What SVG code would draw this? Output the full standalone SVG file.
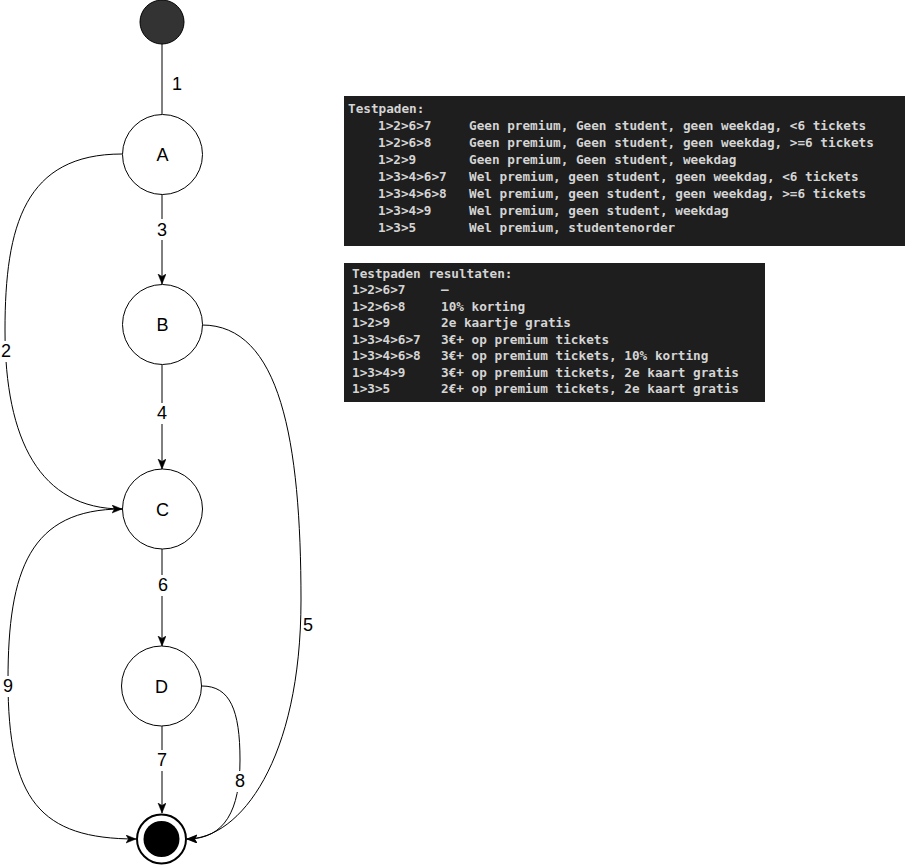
<svg xmlns="http://www.w3.org/2000/svg" width="907" height="866" viewBox="0 0 907 866">
<style>
.node{fill:#fff;stroke:#000;stroke-width:1}
.nl{font-family:"Liberation Sans",Arial,sans-serif;font-size:18px;fill:#000;text-anchor:middle}
.el{font-family:"Liberation Sans",Arial,sans-serif;font-size:18px;fill:#000;text-anchor:middle}
.edge{fill:none;stroke:#000;stroke-width:1}
.lbg{fill:#fff}
.box{fill:#1e1e1e}
.mono{font-family:"DejaVu Sans Mono","Liberation Mono",monospace;font-size:12.7px;font-weight:bold;fill:#d4d4d4}
</style>
<defs>
<marker id="arr" markerUnits="userSpaceOnUse" markerWidth="12" markerHeight="10" refX="10" refY="4" orient="auto" viewBox="0 0 12 10">
<path d="M0,0 L10,4 L0,8 L2.5,4 Z" fill="#000" stroke="#000" stroke-width="0.5"/>
</marker>
</defs>
<rect width="907" height="866" fill="#fff"/>

<g id="connectors">
<line class="edge" x1="162" y1="44" x2="162" y2="114"/>
<path class="edge" d="M162,194 L162,284" marker-end="url(#arr)"/>
<path class="edge" d="M162,365 L162,469" marker-end="url(#arr)"/>
<path class="edge" d="M162,549 L162,646" marker-end="url(#arr)"/>
<path class="edge" d="M162,726 L162,813" marker-end="url(#arr)"/>
<path class="edge" d="M122,154 C25,154 5,225 5,330 C5,440 40,509 122,509" marker-end="url(#arr)"/>
<path class="edge" d="M122,509 C30,509 8,570 8,680 C8,800 40,839 136,839" marker-end="url(#arr)"/>
<path class="edge" d="M202,325 C280,325 301,440 301,600 C301,760 240,839 187,839" marker-end="url(#arr)"/>
<path class="edge" d="M202,686 C230,686 240,710 240,760 C240,810 225,839 187,839" marker-end="url(#arr)"/>
<g id="edge-labels">
<text class="el" x="177" y="90">1</text>
<rect class="lbg" x="152" y="219" width="20" height="21"/>
<text class="el" x="162" y="236">3</text>
<rect class="lbg" x="152" y="403" width="20" height="21"/>
<text class="el" x="162" y="419">4</text>
<rect class="lbg" x="153" y="575" width="20" height="21"/>
<text class="el" x="163" y="591">6</text>
<rect class="lbg" x="152" y="750" width="20" height="21"/>
<text class="el" x="162" y="766">7</text>
<rect class="lbg" x="0" y="341" width="12" height="21"/>
<text class="el" x="6" y="357">2</text>
<rect class="lbg" x="0" y="676" width="16" height="21"/>
<text class="el" x="8" y="692">9</text>
<text class="el" x="308" y="631">5</text>
<rect class="lbg" x="232" y="771" width="17" height="21"/>
<text class="el" x="240" y="787">8</text>
</g>
</g>

<g id="start"><circle cx="162" cy="22" r="22" fill="#333" stroke="#000" stroke-width="1"/></g>
<g id="A"><circle class="node" cx="162.5" cy="154.5" r="40"/><text class="nl" x="162.5" y="161">A</text></g>
<g id="B"><circle class="node" cx="162.5" cy="324.5" r="40"/><text class="nl" x="162.5" y="331">B</text></g>
<g id="C"><circle class="node" cx="162.5" cy="509" r="40"/><text class="nl" x="162.5" y="515.5">C</text></g>
<g id="D"><circle class="node" cx="161.5" cy="686" r="40"/><text class="nl" x="161.5" y="692.5">D</text></g>
<g id="end"><circle cx="161.5" cy="839" r="24.5" fill="#fff" stroke="#000" stroke-width="2"/><circle cx="161.5" cy="839" r="18" fill="#000"/></g>

<g id="testpaden">
<rect class="box" x="344" y="96" width="561" height="150"/>
<text class="mono" x="348" y="112.5">Testpaden:</text>
<text class="mono" x="378" y="129.5">1&gt;2&gt;6&gt;7</text><text class="mono" x="469" y="129.5">Geen premium, Geen student, geen weekdag, &lt;6 tickets</text>
<text class="mono" x="378" y="146.5">1&gt;2&gt;6&gt;8</text><text class="mono" x="469" y="146.5">Geen premium, Geen student, geen weekdag, &gt;=6 tickets</text>
<text class="mono" x="378" y="163.5">1&gt;2&gt;9</text><text class="mono" x="469" y="163.5">Geen premium, Geen student, weekdag</text>
<text class="mono" x="378" y="180.5">1&gt;3&gt;4&gt;6&gt;7</text><text class="mono" x="469" y="180.5">Wel premium, geen student, geen weekdag, &lt;6 tickets</text>
<text class="mono" x="378" y="197.5">1&gt;3&gt;4&gt;6&gt;8</text><text class="mono" x="469" y="197.5">Wel premium, geen student, geen weekdag, &gt;=6 tickets</text>
<text class="mono" x="378" y="214.5">1&gt;3&gt;4&gt;9</text><text class="mono" x="469" y="214.5">Wel premium, geen student, weekdag</text>
<text class="mono" x="378" y="231.5">1&gt;3&gt;5</text><text class="mono" x="469" y="231.5">Wel premium, studentenorder</text>
</g>

<g id="resultaten">
<rect class="box" x="344" y="263" width="421" height="139"/>
<text class="mono" x="352" y="277.5">Testpaden resultaten:</text>
<text class="mono" x="352" y="294">1&gt;2&gt;6&gt;7</text><text class="mono" x="441" y="294">–</text>
<text class="mono" x="352" y="310.5">1&gt;2&gt;6&gt;8</text><text class="mono" x="441" y="310.5">10% korting</text>
<text class="mono" x="352" y="327">1&gt;2&gt;9</text><text class="mono" x="441" y="327">2e kaartje gratis</text>
<text class="mono" x="352" y="343.5">1&gt;3&gt;4&gt;6&gt;7</text><text class="mono" x="441" y="343.5">3€+ op premium tickets</text>
<text class="mono" x="352" y="360">1&gt;3&gt;4&gt;6&gt;8</text><text class="mono" x="441" y="360">3€+ op premium tickets, 10% korting</text>
<text class="mono" x="352" y="376.5">1&gt;3&gt;4&gt;9</text><text class="mono" x="441" y="376.5">3€+ op premium tickets, 2e kaart gratis</text>
<text class="mono" x="352" y="393">1&gt;3&gt;5</text><text class="mono" x="441" y="393">2€+ op premium tickets, 2e kaart gratis</text>
</g>
</svg>
